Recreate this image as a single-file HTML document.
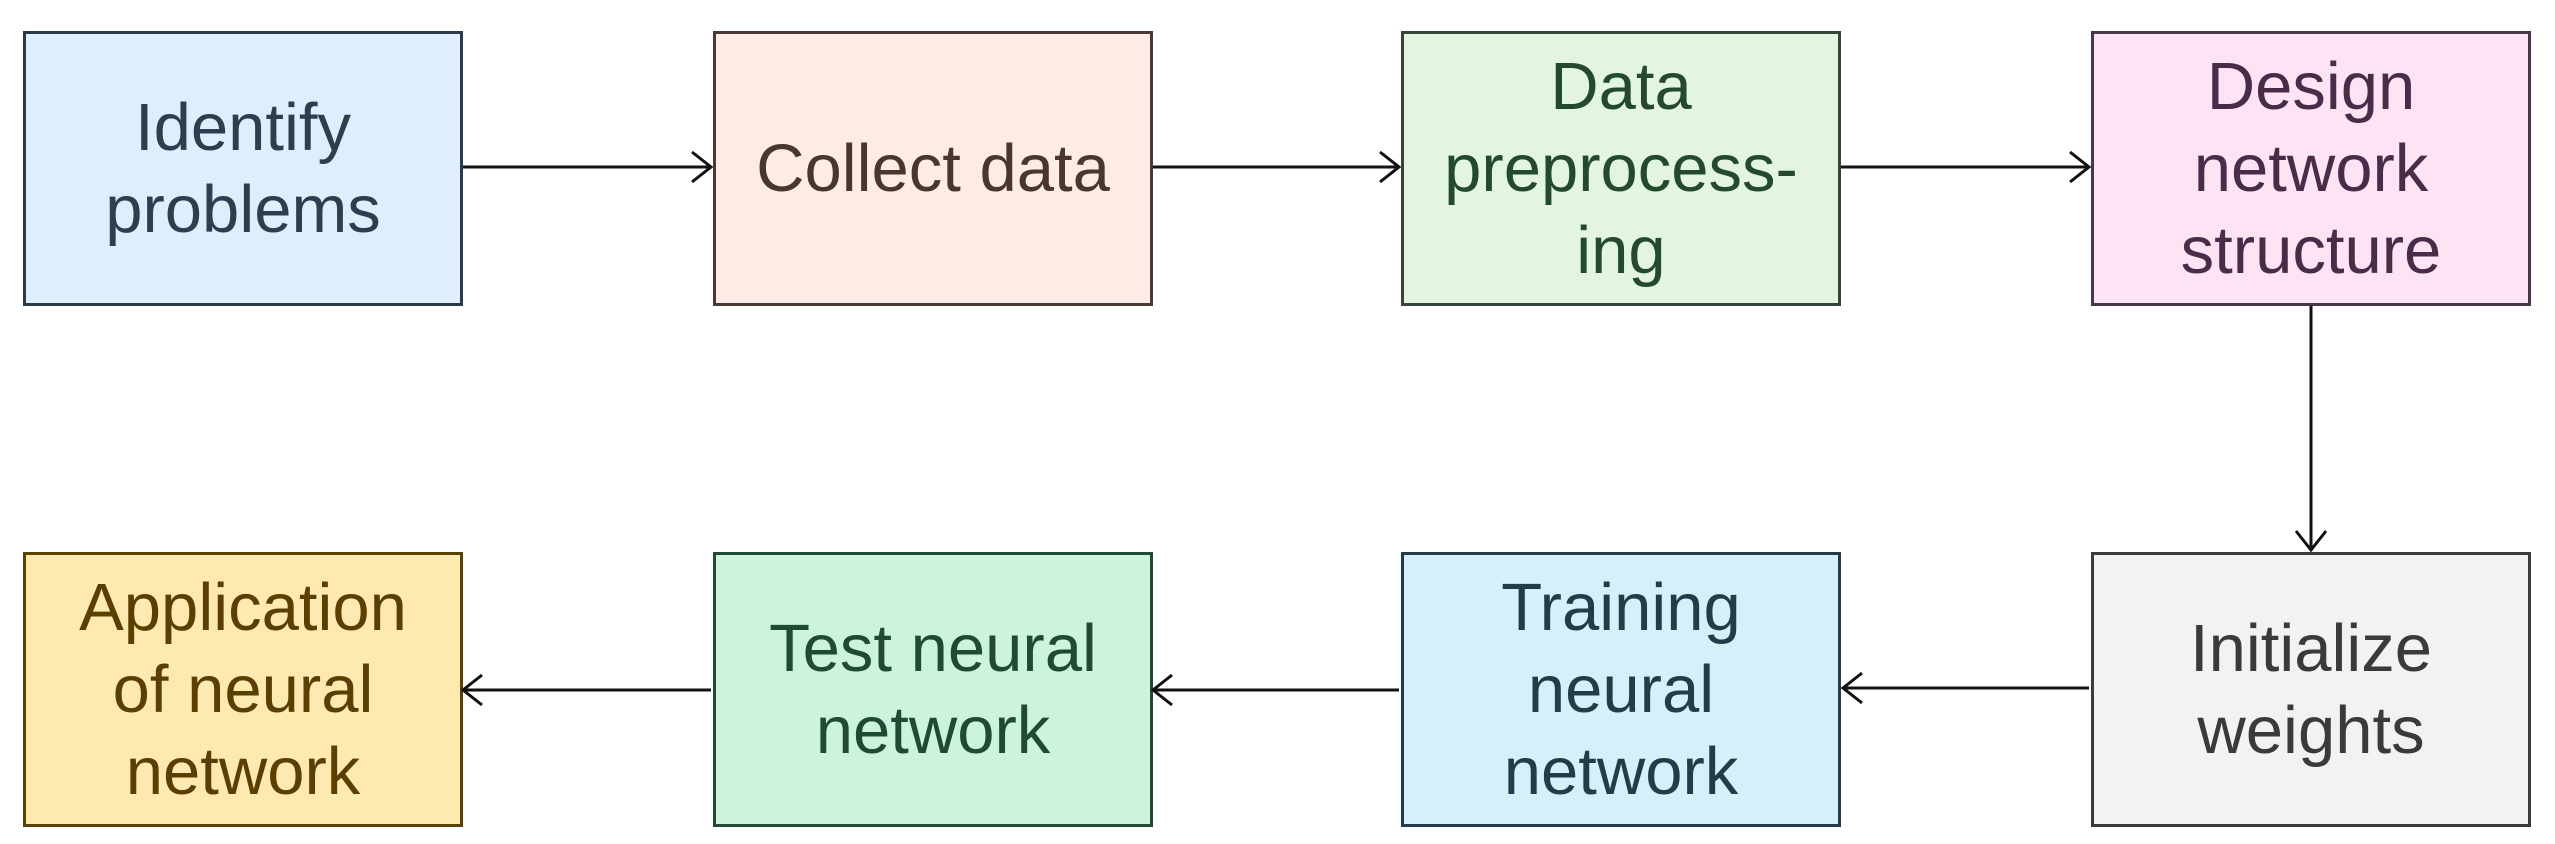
<!DOCTYPE html>
<html><head><style>
body{margin:0;width:2555px;height:844px;background:#fff;overflow:hidden;position:relative;font-family:"Liberation Sans",Arial,sans-serif}
.b{position:absolute;width:434px;height:269px;border:3px solid #333;display:flex;align-items:center;justify-content:center;text-align:center;font-size:67px;line-height:82px;box-sizing:content-box}
svg{position:absolute;left:0;top:0}
</style></head><body>
<div class="b" style="left:23px;top:31px;background:#dfeefb;border-color:#2b3a48;color:#2d3e50">Identify<br>problems</div>
<div class="b" style="left:713px;top:31px;background:#fdece5;border-color:#4a3a35;color:#4a3530">Collect data</div>
<div class="b" style="left:1401px;top:31px;background:#e3f5e0;border-color:#34463a;color:#244a2c">Data<br>preprocess-<br>ing</div>
<div class="b" style="left:2091px;top:31px;background:#fde4f5;border-color:#483848;color:#4a2c48">Design<br>network<br>structure</div>
<div class="b" style="left:23px;top:552px;background:#feeab0;border-color:#5a4300;color:#5a3f00">Application<br>of neural<br>network</div>
<div class="b" style="left:713px;top:552px;background:#cef3dc;border-color:#1f4a33;color:#1f4a33">Test neural<br>network</div>
<div class="b" style="left:1401px;top:552px;background:#d4f1fa;border-color:#243c48;color:#233c48">Training<br>neural<br>network</div>
<div class="b" style="left:2091px;top:552px;background:#f2f2f2;border-color:#3a3a3a;color:#3a3a3a">Initialize<br>weights</div>
<svg width="2555" height="844" fill="none" stroke="#111" stroke-width="3">
<path d="M463 167H711M692 152L711 167L692 182"/>
<path d="M1153 167H1399M1380 152L1399 167L1380 182"/>
<path d="M1841 167H2089M2070 152L2089 167L2070 182"/>
<path d="M2311 306V550M2296 531L2311 550L2326 531"/>
<path d="M2089 688H1843M1862 673L1843 688L1862 703"/>
<path d="M1399 690H1153M1172 675L1153 690L1172 705"/>
<path d="M711 690H463M482 675L463 690L482 705"/>
</svg>
</body></html>
